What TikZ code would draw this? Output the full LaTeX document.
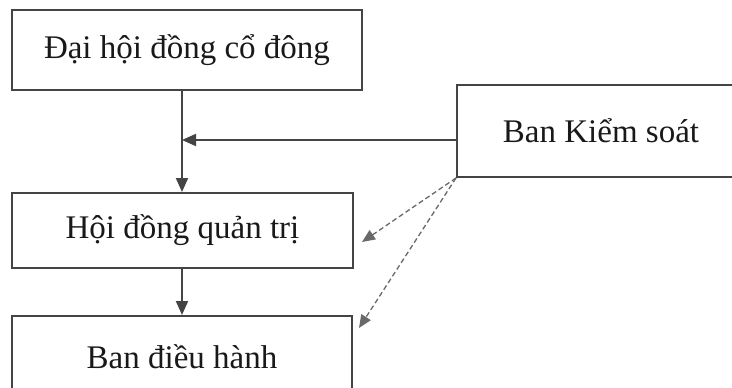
\documentclass[tikz,border=0pt]{standalone}
\usepackage{fontspec}
\setmainfont{Liberation Serif}
\usetikzlibrary{arrows.meta}
\definecolor{ink}{HTML}{444444}
\tikzset{
  orgbox/.style={draw=ink, line width=2pt, fill=white, inner sep=0pt,
    font=\fontsize{33}{38}\selectfont, text=black!90},
  link/.style={draw=ink, line width=2pt, -{Triangle[length=14pt,width=12pt]}},
  dlink/.style={draw=ink!80, line width=1.3pt, dash pattern=on 5pt off 3pt,
    -{Triangle[length=13pt,width=11pt]}}
}
\begin{document}
\begin{tikzpicture}[x=1pt,y=-1pt]
  \useasboundingbox (0,0) rectangle (732,388);
  \clip (0,0) rectangle (732,388);
  \fill[white] (0,0) rectangle (732,388);

  % boxes
  \node[orgbox, minimum width=350pt, minimum height=80pt] (dh) at (187,50) {Đại hội đồng cổ đông};
  \node[orgbox, minimum width=341pt, minimum height=75pt] (hd) at (182.5,230.5) {Hội đồng quản trị};
  \node[orgbox, minimum width=340pt, minimum height=82pt] (bd) at (182,357) {Ban điều hành};
  \node[orgbox, minimum width=288pt, minimum height=92pt] (bk) at (601,131) {Ban Kiểm soát};

  % junction on the vertical line and free ends of dashed arrows
  \coordinate (j) at (182,140);
  \coordinate (t1) at (362,242);
  \coordinate (t2) at (359,328);

  % solid connectors
  \draw[link] (j |- dh.south) -- (j |- hd.north);
  \draw[link] (bk.west |- j) -- (j);
  \draw[link] (j |- hd.south) -- (j |- bd.north);

  % dashed connectors
  \draw[dlink] (bk.south west) -- (t1);
  \draw[dlink] (bk.south west) -- (t2);
\end{tikzpicture}
\end{document}
